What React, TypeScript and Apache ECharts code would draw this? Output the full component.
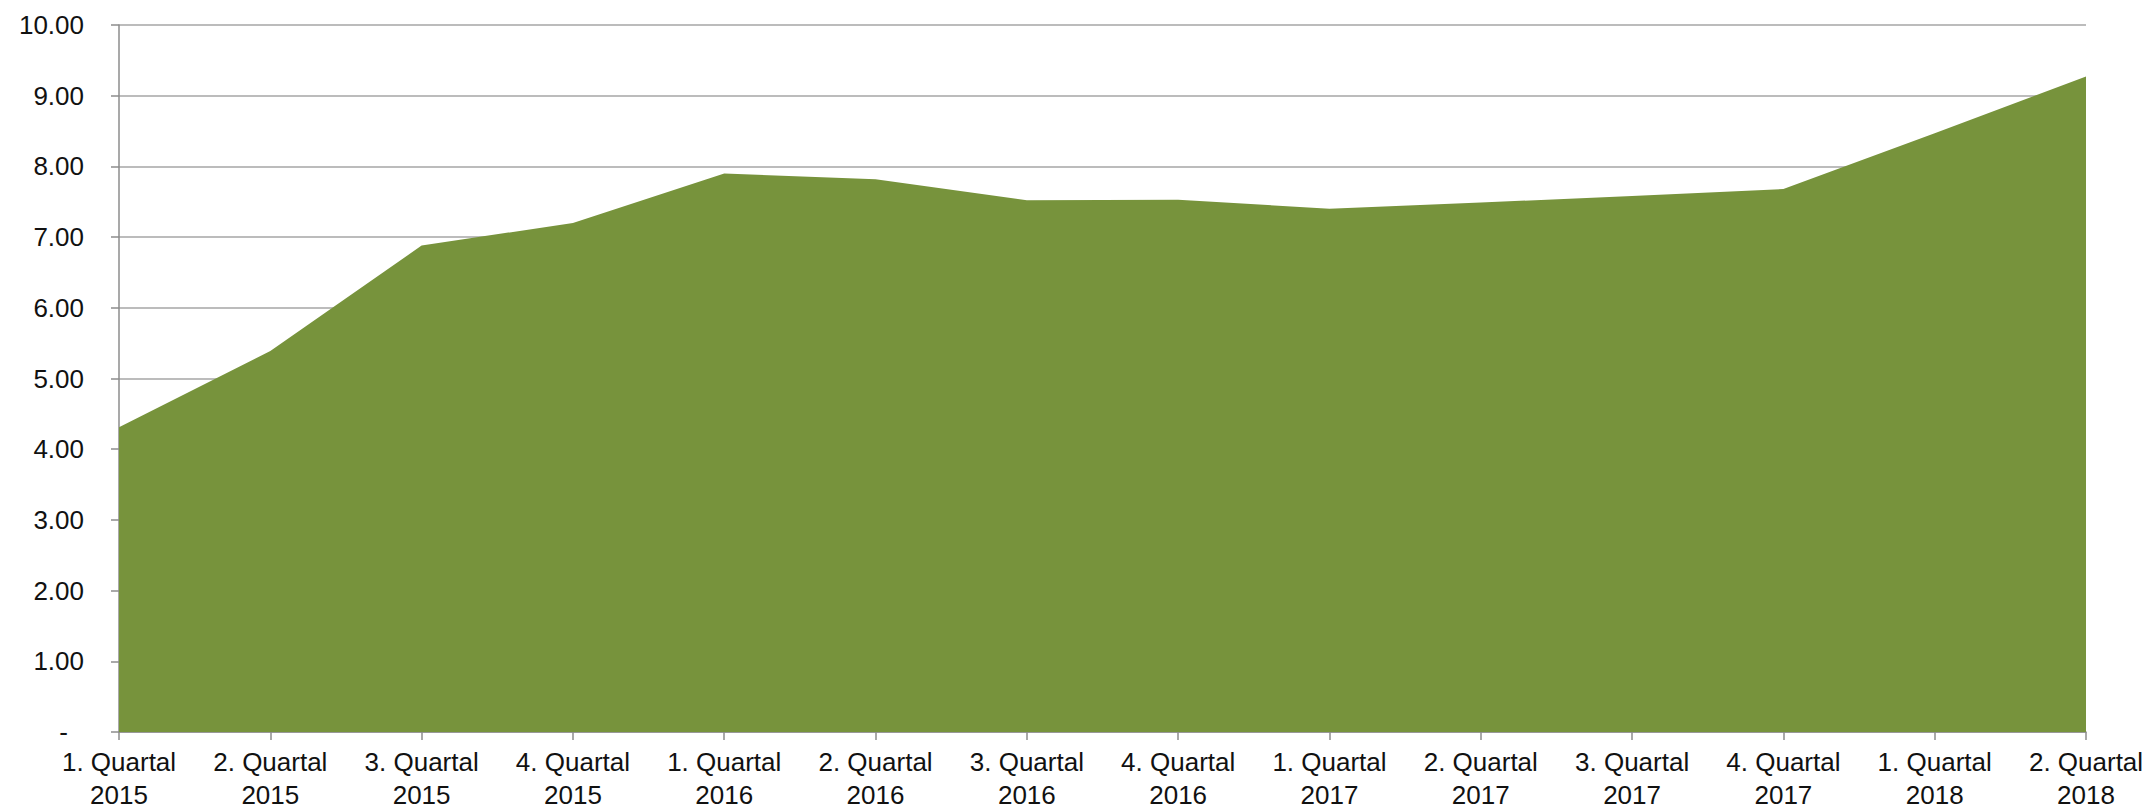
import React, { useEffect, useRef } from "react";
import * as echarts from "echarts";

const categories = [
  "1. Quartal\n2015", "2. Quartal\n2015", "3. Quartal\n2015", "4. Quartal\n2015",
  "1. Quartal\n2016", "2. Quartal\n2016", "3. Quartal\n2016", "4. Quartal\n2016",
  "1. Quartal\n2017", "2. Quartal\n2017", "3. Quartal\n2017", "4. Quartal\n2017",
  "1. Quartal\n2018", "2. Quartal\n2018",
];

const values = [4.31, 5.39, 6.88, 7.2, 7.9, 7.82, 7.52, 7.53, 7.4, 7.49, 7.58, 7.68, 8.47, 9.27];

const yMin = 0;
const yMax = 10;
const yStep = 1;

export default function App() {
  const ref = useRef<HTMLDivElement>(null);

  useEffect(() => {
    if (!ref.current) return;
    const chart = echarts.init(ref.current, null, { renderer: "svg" });
    const font = "'Liberation Sans', Arial, sans-serif";
    chart.setOption({
      animation: false,
      backgroundColor: "#ffffff",
      grid: { left: 119, right: 62, top: 25, bottom: 76, containLabel: false },
      xAxis: {
        type: "category",
        data: categories,
        boundaryGap: false,
        axisLine: { show: true, lineStyle: { color: "#8c8c8c", width: 1.5 } },
        axisTick: { show: true, interval: 0, length: 8, lineStyle: { color: "#8c8c8c", width: 1.5 } },
        axisLabel: {
          interval: 0,
          margin: 13,
          color: "#111111",
          fontFamily: font,
          fontSize: 26,
          lineHeight: 33,
          align: "center",
        },
        splitLine: { show: false },
      },
      yAxis: {
        type: "value",
        min: yMin,
        max: yMax,
        interval: yStep,
        axisLine: { show: true, lineStyle: { color: "#8c8c8c", width: 1.5 } },
        axisTick: { show: true, length: 8, lineStyle: { color: "#8c8c8c", width: 1.5 } },
        splitLine: { show: true, lineStyle: { color: "#a6a6a6", width: 1.5 } },
        axisLabel: {
          margin: 35,
          color: "#111111",
          fontFamily: font,
          fontSize: 26,
          formatter: (v: number) => (v === 0 ? "{z|-}" : v.toFixed(2)),
          rich: {
            z: { fontFamily: font, fontSize: 26, color: "#111111", padding: [0, 16, 0, 0] },
          },
        },
      },
      series: [
        {
          type: "line",
          data: values,
          showSymbol: false,
          symbol: "none",
          lineStyle: { width: 0, color: "#77933C" },
          itemStyle: { color: "#77933C" },
          areaStyle: { color: "#77933C", opacity: 1 },
          z: 1,
        },
      ],
    });
    return () => chart.dispose();
  }, []);

  return (
    <div
      ref={ref}
      style={{ position: "fixed", left: 0, top: 0, width: 2148, height: 811, background: "#fff" }}
    />
  );
}
